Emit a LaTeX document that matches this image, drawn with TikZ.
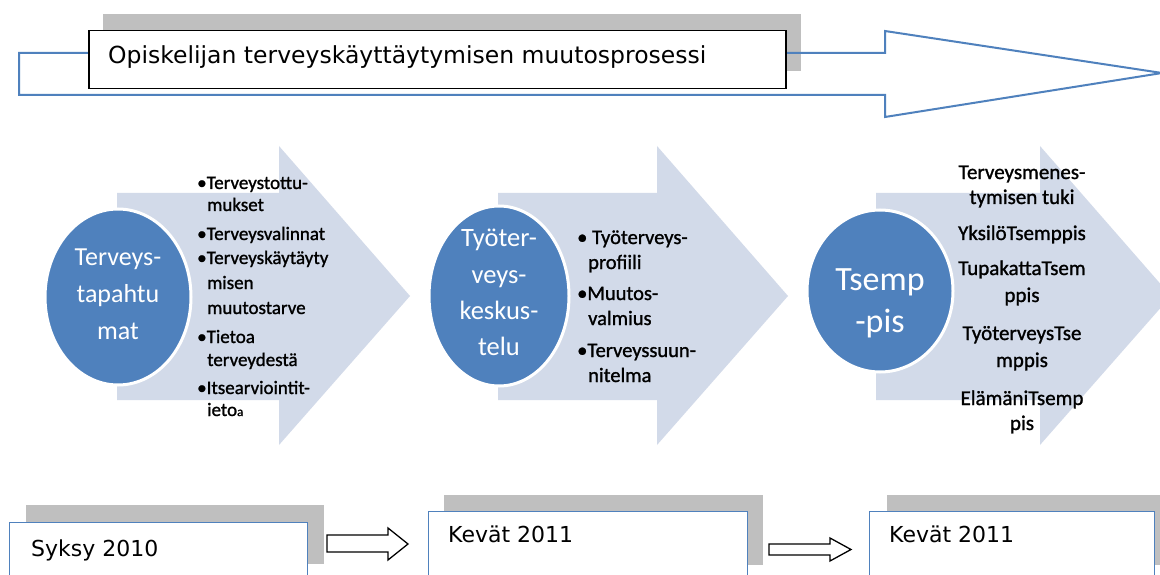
\documentclass[tikz,border=0pt]{standalone}
\usepackage{fontspec}
\setmainfont{Carlito}
\newfontfamily\dejavu{DejaVu Sans}
\newfontfamily\listfont[FakeBold=1.2]{Carlito}
\usetikzlibrary{shapes.geometric}
\definecolor{chev}{RGB}{210,218,233}
\definecolor{ell}{RGB}{79,129,189}
\definecolor{shad}{RGB}{191,191,191}
\definecolor{bblue}{RGB}{79,129,189}
\tikzset{
  chevron/.style={fill=chev},
  blob/.style={ellipse, fill=ell, draw=white, line width=3pt, inner sep=0pt},
  shadowbox/.style={fill=shad},
  datebox/.style={draw=bblue, fill=white, line width=1.3pt},
  blockarrow/.style={draw=black, fill=white, line width=1.3pt, line join=miter},
  blobtext/.style={anchor=base, text=white, inner sep=0pt},
  listtext/.style={anchor=base west, inner sep=0pt, font=\listfont\fontsize{19}{22}\selectfont},
  listtextb/.style={anchor=base west, inner sep=0pt, font=\listfont\fontsize{20.5}{24}\selectfont},
  listtextc/.style={anchor=base, inner sep=0pt, font=\listfont\fontsize{21}{24}\selectfont},
  datetext/.style={anchor=base west, inner sep=0pt, font=\dejavu\fontsize{22}{26}\selectfont},
}
\begin{document}
\begin{tikzpicture}[x=1pt,y=-1pt]
\useasboundingbox (0,0) rectangle (1160,575);
\fill[white] (0,0) rectangle (1160,575);

% ---------- top process arrow ----------
\fill[shadowbox] (103,14) rectangle (801,71);
\draw[bblue, line width=2pt, line join=miter]
  (19,53) -- (885,53) -- (885,31) -- (1162,73) -- (885,117) -- (885,95) -- (19,95) -- cycle;
\node[draw=black, fill=white, line width=1.5pt, anchor=north west, minimum width=697pt,
      minimum height=58pt, inner sep=0pt] (titlebox) at (88,30) {};
\node[anchor=base west, inner sep=0pt, font=\dejavu\fontsize{23.5}{28}\selectfont]
  (title) at (108,64) {Opiskelijan terveyskäyttäytymisen muutosprosessi};

% ---------- chevrons ----------
\fill[chevron] (117,193) -- (279,193) -- (279,146) -- (410,296) -- (279,445) -- (279,400) -- (117,400) -- cycle;
\fill[chevron] (498,193) -- (657,193) -- (657,146) -- (788,296) -- (657,445) -- (657,400) -- (498,400) -- cycle;
\fill[chevron] (876,193) -- (1040,193) -- (1040,146) -- (1171,296) -- (1040,445) -- (1040,400) -- (876,400) -- cycle;

% ---------- ellipses ----------
\node[blob, minimum width=146pt, minimum height=176pt] (e1) at (118,297) {};
\node[blob, minimum width=140pt, minimum height=180pt] (e2) at (499,296) {};
\node[blob, minimum width=146pt, minimum height=162pt] (e3) at (880,291) {};

\foreach \y/\t [count=\i] in {265/Terveys-,302/tapahtu,339/mat}
  \node[blobtext, font=\fontsize{26}{30}\selectfont] (e1t\i) at (118,\y) {\t};
\foreach \y/\t [count=\i] in {247/Työter-,283/veys-,319/keskus-,355/telu}
  \node[blobtext, font=\fontsize{26.5}{30}\selectfont] (e2t\i) at (499,\y) {\t};
\foreach \y/\t [count=\i] in {290/Tsemp,332/-pis}
  \node[blobtext, font=\fontsize{34}{40}\selectfont] (e3t\i) at (880,\y) {\t};

% ---------- lists ----------
\foreach \x/\y/\t [count=\i] in {
  197/189/\textbullet Terveystottu-,
  207/211/mukset,
  197/240/\textbullet Terveysvalinnat,
  197/264/\textbullet Terveyskäytäyty,
  207/289/misen,
  207/314/muutostarve,
  197/343/\textbullet Tietoa,
  207/366/terveydestä,
  197/394/\textbullet Itsearviointit-,
  207/416/{ieto{\fontsize{13}{14}\selectfont a}}}
  \node[listtext] (la\i) at (\x,\y) {\t};

\foreach \x/\y/\t [count=\i] in {
  577/244/\textbullet\ Työterveys-,
  588/269/profiili,
  577/300/\textbullet Muutos-,
  588/325/valmius,
  577/357/\textbullet Terveyssuun-,
  588/382/nitelma}
  \node[listtextb] (lb\i) at (\x,\y) {\t};

\foreach \y/\t [count=\i] in {
  179/Terveysmenes-,
  204/tymisen tuki,
  240/YksilöTsemppis,
  275/TupakattaTsem,
  302/ppis,
  340/TyöterveysTse,
  367/mppis,
  405/ElämäniTsemp,
  430/pis}
  \node[listtextc] (lc\i) at (1022,\y) {\t};

% ---------- bottom date boxes ----------
\fill[shadowbox] (26,505) rectangle (324,564);
\fill[shadowbox] (444,495) rectangle (763,565);
\fill[shadowbox] (887,495) rectangle (1175,565);
\node[datebox, anchor=north west, minimum width=298pt, minimum height=80pt, inner sep=0pt] (b1) at (9,522) {};
\node[datebox, anchor=north west, minimum width=319pt, minimum height=80pt, inner sep=0pt] (b2) at (428,511) {};
\node[datebox, anchor=north west, minimum width=285pt, minimum height=80pt, inner sep=0pt] (b3) at (869,511) {};
\node[datetext] (d1) at (31,556) {Syksy 2010};
\node[datetext] (d2) at (448,542) {Kevät 2011};
\node[datetext] (d3) at (889,542) {Kevät 2011};

\draw[blockarrow] (327,535) -- (388,535) -- (388,528) -- (408,544) -- (388,560) -- (388,552) -- (327,552) -- cycle;
\draw[blockarrow] (769,544) -- (830,544) -- (830,538) -- (851,549.5) -- (830,561) -- (830,555) -- (769,555) -- cycle;
\end{tikzpicture}
\end{document}
